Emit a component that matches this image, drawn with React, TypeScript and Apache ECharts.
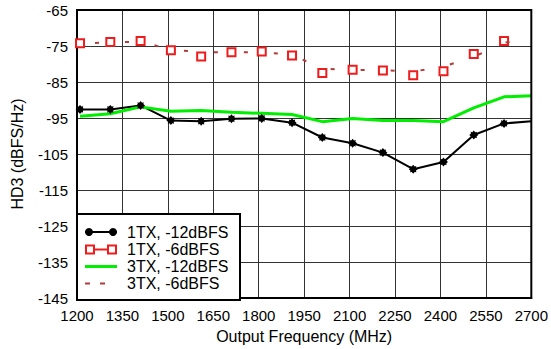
import React, { useEffect, useRef } from 'react';
import * as echarts from 'echarts';

const freqs = [1210, 1310, 1410, 1510, 1610, 1710, 1810, 1910, 2010, 2110, 2210, 2310, 2410, 2510, 2610, 2700];
const tx1m12 = [-92.6, -92.6, -91.5, -95.7, -95.9, -95.2, -95.1, -96.3, -100.4, -102.0, -104.6, -109.2, -107.2, -99.7, -96.5, -95.9];
const tx1m6 = [-74.2, -73.9, -73.6, -76.2, -77.9, -76.7, -76.5, -77.6, -82.5, -81.6, -81.8, -83.1, -82.0, -77.2, -73.6];
const tx3m12 = [-94.5, -93.8, -91.9, -93.1, -92.9, -93.4, -93.7, -94.0, -96.0, -95.1, -95.7, -95.7, -96.0, -92.2, -89.1, -88.8];
const tx3m6 = [-74.3, -74.0, -73.8, -76.0, -76.7, -76.7, -76.7, -77.4, -81.3, -81.6, -81.7, -82.1, -80.7, -78.0, -74.1, -73.0];
const xTicks = [1200, 1350, 1500, 1650, 1800, 1950, 2100, 2250, 2400, 2550, 2700];
const yTicks = [-145, -135, -125, -115, -105, -95, -85, -75, -65];
const seriesNames = ['1TX, -12dBFS', '1TX, -6dBFS', '3TX, -12dBFS', '3TX, -6dBFS'];

const BLACK = '#000';
const RED = '#ee1c1c';
const GREEN = '#00ee00';
const BROWN = '#b03c3c';
const FONT = 'Arial, "Liberation Sans", Helvetica, sans-serif';
const starPath =
  'path://M0,-5L1.6,-3.1L3.5,-3.5L3.1,-1.6L5,0L3.1,1.6L3.5,3.5L1.6,3.1L0,5L-1.6,3.1L-3.5,3.5L-3.1,1.6L-5,0L-3.1,-1.6L-3.5,-3.5L-1.6,-3.1Z';

function legendGraphic() {
  const boxX = 77;
  const boxY = 214;
  const rows = [232, 249.5, 266.5, 283.5];
  const iconL = 85;
  const iconR = 117;
  const textX = 127;
  const els: any[] = [
    {
      type: 'rect',
      shape: { x: boxX, y: boxY, width: 163, height: 86 },
      style: { fill: '#fff', stroke: '#000', lineWidth: 2 },
      z: 100,
    },
  ];
  // row 1: black line with markers at both ends
  els.push({ type: 'line', shape: { x1: iconL, y1: rows[0], x2: iconR, y2: rows[0] }, style: { stroke: BLACK, lineWidth: 2 }, z: 101 });
  els.push({ type: 'circle', shape: { cx: iconL + 4, cy: rows[0], r: 4 }, style: { fill: BLACK }, z: 102 });
  els.push({ type: 'circle', shape: { cx: iconR - 4, cy: rows[0], r: 4 }, style: { fill: BLACK }, z: 102 });
  // row 2: red squares with short line between
  els.push({ type: 'line', shape: { x1: iconL + 8, y1: rows[1], x2: iconR - 8, y2: rows[1] }, style: { stroke: RED, lineWidth: 2 }, z: 101 });
  els.push({ type: 'rect', shape: { x: iconL + 1, y: rows[1] - 4, width: 8, height: 8 }, style: { fill: '#fff', stroke: RED, lineWidth: 2 }, z: 102 });
  els.push({ type: 'rect', shape: { x: iconR - 9, y: rows[1] - 4, width: 8, height: 8 }, style: { fill: '#fff', stroke: RED, lineWidth: 2 }, z: 102 });
  // row 3: green line
  els.push({ type: 'line', shape: { x1: iconL, y1: rows[2], x2: iconR, y2: rows[2] }, style: { stroke: GREEN, lineWidth: 3 }, z: 101 });
  // row 4: brown dashes
  els.push({ type: 'line', shape: { x1: iconL, y1: rows[3], x2: iconL + 5, y2: rows[3] }, style: { stroke: BROWN, lineWidth: 2 }, z: 101 });
  els.push({ type: 'line', shape: { x1: iconL + 15, y1: rows[3], x2: iconL + 20, y2: rows[3] }, style: { stroke: BROWN, lineWidth: 2 }, z: 101 });
  seriesNames.forEach((n, i) => {
    els.push({
      type: 'text',
      x: textX,
      y: rows[i],
      style: { text: n, font: `16px ${FONT}`, fill: '#000', verticalAlign: 'middle', align: 'left' },
      z: 103,
    });
  });
  return els;
}

export default function App() {
  const ref = useRef<HTMLDivElement>(null);
  useEffect(() => {
    if (!ref.current) return;
    const chart = echarts.init(ref.current, undefined, { renderer: 'svg' });
    const pairs = (ys: number[]) => ys.map((v, i) => [freqs[i], v]);
    chart.setOption({
      animation: false,
      backgroundColor: '#fff',
      textStyle: { fontFamily: FONT },
      grid: {
        left: 77,
        right: 19,
        top: 10,
        bottom: 49,
        show: true,
        borderColor: '#000',
        borderWidth: 2,
        z: 3,
      },
      xAxis: {
        type: 'value',
        min: xTicks[0],
        max: xTicks[xTicks.length - 1],
        interval: xTicks[1] - xTicks[0],
        name: 'Output Frequency (MHz)',
        nameLocation: 'middle',
        nameGap: 28,
        nameTextStyle: { fontSize: 16, color: '#000', fontFamily: FONT },
        axisLine: { show: true, lineStyle: { color: '#000', width: 2 } },
        axisTick: { show: false },
        axisLabel: { fontSize: 15, color: '#000', margin: 10, fontFamily: FONT, formatter: (v: number) => String(v) },
        splitLine: { show: true, lineStyle: { color: '#333', width: 1 } },
      },
      yAxis: {
        type: 'value',
        min: yTicks[0],
        max: yTicks[yTicks.length - 1],
        interval: yTicks[1] - yTicks[0],
        name: 'HD3 (dBFS/Hz)',
        nameLocation: 'middle',
        nameGap: 52,
        nameTextStyle: { fontSize: 16, color: '#000', fontFamily: FONT },
        axisLine: { show: true, lineStyle: { color: '#000', width: 2 } },
        axisTick: { show: false },
        axisLabel: { fontSize: 15, color: '#000', margin: 9, fontFamily: FONT, formatter: (v: number) => String(v) },
        splitLine: { show: true, lineStyle: { color: '#333', width: 1 } },
      },
      legend: { show: false },
      graphic: legendGraphic(),
      series: [
        {
          name: seriesNames[0],
          type: 'line',
          data: pairs(tx1m12).map((p, i) => (i === tx1m12.length - 1 ? { value: p, symbol: 'none' } : p)),
          symbol: starPath,
          symbolSize: 9,
          itemStyle: { color: BLACK },
          lineStyle: { color: BLACK, width: 2 },
          z: 2,
        },
        {
          name: seriesNames[1],
          type: 'line',
          data: pairs(tx1m6),
          symbol: 'emptyRect',
          symbolSize: 8,
          itemStyle: { color: RED, borderColor: RED, borderWidth: 2 },
          lineStyle: { width: 0, opacity: 0 },
          z: 4,
        },
        {
          name: seriesNames[2],
          type: 'line',
          data: pairs(tx3m12),
          showSymbol: false,
          symbol: 'none',
          itemStyle: { color: GREEN },
          lineStyle: { color: GREEN, width: 3 },
          z: 2,
        },
        {
          name: seriesNames[3],
          type: 'line',
          data: pairs(tx3m6),
          showSymbol: false,
          symbol: 'none',
          itemStyle: { color: BROWN },
          lineStyle: { color: BROWN, width: 2, type: [4, 26], dashOffset: 15 },
          z: 5,
        },
      ],
    });
    return () => chart.dispose();
  }, []);
  return <div ref={ref} style={{ position: 'fixed', left: 0, top: 0, width: 551, height: 349 }} />;
}
